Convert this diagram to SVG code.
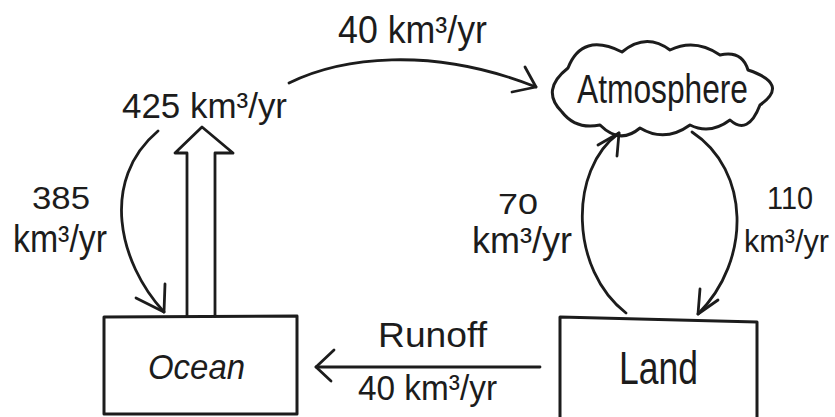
<svg xmlns="http://www.w3.org/2000/svg" width="835" height="417" viewBox="0 0 835 417">
  <style>
    .ink { fill: none; stroke: #1c1c1c; stroke-width: 2.8; stroke-linecap: round; stroke-linejoin: round; }
    .box { fill: none; stroke: #1c1c1c; stroke-width: 3; stroke-linejoin: round; }
    .lbl { font-family: "Liberation Sans", Arial, sans-serif; fill: #1c1c1c; }
  </style>
  <rect width="835" height="417" fill="#ffffff"/>

  <!-- Ocean reservoir -->
  <g id="ocean">
    <path class="box" d="M104 414 L104 317 L297 316 L297 414 Z"/>
    <text class="lbl" x="148" y="379" font-size="35" font-style="italic" textLength="97" lengthAdjust="spacingAndGlyphs">Ocean</text>
  </g>

  <!-- Land reservoir -->
  <g id="land">
    <path class="box" d="M560 420 L560 317 L757 322 L757 420"/>
    <text class="lbl" x="619" y="384" font-size="46" textLength="79" lengthAdjust="spacingAndGlyphs">Land</text>
  </g>

  <!-- Atmosphere cloud -->
  <g id="atmosphere">
    <path class="box" d="M562 112 Q540 90 568 68 Q582 32 622 52 Q646 32 670 50 Q695 38 720 55 Q742 50 748 70 Q790 84 760 105 Q748 136 730 120 Q710 135 690 125 Q665 143 640 128 Q620 145 600 125 Q576 130 562 112 Z"/>
    <text class="lbl" x="577" y="103" font-size="40" textLength="171" lengthAdjust="spacingAndGlyphs">Atmosphere</text>
  </g>

  <!-- Flows between the reservoirs -->
  <g id="connectors">
    <!-- evaporation from ocean: hollow block arrow -->
    <g id="flow-ocean-evap">
      <path class="ink" d="M187 316 L187 153 L175 153 L202 127 L233 153 L215 153 L215 316"/>
      <text class="lbl" x="122" y="118" font-size="35" textLength="165" lengthAdjust="spacingAndGlyphs">425 km³/yr</text>
    </g>
    <!-- precipitation onto ocean -->
    <g id="flow-ocean-precip">
      <path class="ink" d="M158 131 C100 180, 118 262, 164 312"/>
      <path class="ink" d="M136 298 L164 312 L165 284"/>
      <text class="lbl" x="32" y="209" font-size="31" textLength="58" lengthAdjust="spacingAndGlyphs">385</text>
      <text class="lbl" x="13" y="252" font-size="38" textLength="94" lengthAdjust="spacingAndGlyphs">km³/yr</text>
    </g>
    <!-- vapour transport ocean to atmosphere over land -->
    <g id="flow-transport">
      <path class="ink" d="M289 83 C340 58, 430 45, 536 87"/>
      <path class="ink" d="M525 67 L536 87 L512 92"/>
      <text class="lbl" x="338" y="43" font-size="38" textLength="149" lengthAdjust="spacingAndGlyphs">40 km³/yr</text>
    </g>
    <!-- evaporation from land -->
    <g id="flow-land-evap">
      <path class="ink" d="M626 313 C570 270, 568 170, 619 133"/>
      <path class="ink" d="M598 145 L619 133 L617 156"/>
      <text class="lbl" x="498" y="214" font-size="30" textLength="40" lengthAdjust="spacingAndGlyphs">70</text>
      <text class="lbl" x="472" y="253" font-size="36" textLength="100" lengthAdjust="spacingAndGlyphs">km³/yr</text>
    </g>
    <!-- precipitation onto land -->
    <g id="flow-land-precip">
      <path class="ink" d="M692 132 C750 170, 752 260, 698 314"/>
      <path class="ink" d="M700 289 L698 314 L718 300"/>
      <text class="lbl" x="767" y="209" font-size="31" textLength="46" lengthAdjust="spacingAndGlyphs">110</text>
      <text class="lbl" x="744" y="252" font-size="32" textLength="85" lengthAdjust="spacingAndGlyphs">km³/yr</text>
    </g>
    <!-- runoff from land to ocean -->
    <g id="flow-runoff">
      <path class="ink" d="M540 367 L316 367"/>
      <path class="ink" d="M334 350 L316 367 L331 381"/>
      <text class="lbl" x="378" y="347" font-size="35" textLength="109" lengthAdjust="spacingAndGlyphs">Runoff</text>
      <text class="lbl" x="358" y="400" font-size="35" textLength="139" lengthAdjust="spacingAndGlyphs">40 km³/yr</text>
    </g>
  </g>
</svg>
